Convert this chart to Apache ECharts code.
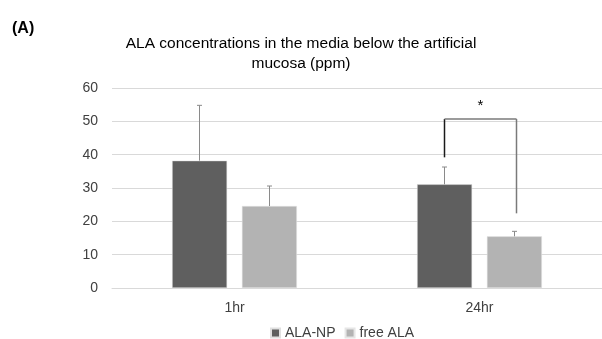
<!DOCTYPE html>
<html><head><meta charset="utf-8">
<script src="https://cdn.jsdelivr.net/npm/echarts@6/dist/echarts.min.js"></script>
<style>html,body{margin:0;padding:0;background:#fff}#c{width:602px;height:339px}</style>
</head><body><div id="c"></div>
<script>
var categories = ['1hr', '24hr'];
var seriesNames = ['ALA-NP', 'free ALA'];
var alaNP = [38.2, 31.1];
var freeALA = [24.6, 15.5];
var alaNPErr = [16.6, 5.2];
var freeALAErr = [6.0, 1.5];
var yTicks = [0, 10, 20, 30, 40, 50, 60];
// significance bracket (24hr): left leg bottom, top, right leg bottom, star
var bracketLeftBottom = 39.2;
var bracketTop = 50.7;
var bracketRightBottom = 22.4;
var starValue = 54.6;
var bracketCategory = 1;

var BAR_W = 55, HALF_OFF = 35;

function errItems(vals, errs) {
  return vals.map(function (v, i) { return [i, v, v + errs[i]]; });
}
function errRender(off, color) {
  return function (params, api) {
    var p0 = api.coord([api.value(0), api.value(1)]);
    var p1 = api.coord([api.value(0), api.value(2)]);
    var x = p0[0] + off;
    return {
      type: 'group',
      children: [
        { type: 'line', shape: { x1: x, y1: p0[1], x2: x, y2: p1[1] }, style: { stroke: color, lineWidth: 1 } },
        { type: 'line', shape: { x1: x - 2.5, y1: p1[1], x2: x + 2.5, y2: p1[1] }, style: { stroke: color, lineWidth: 1 } }
      ]
    };
  };
}

var chart = echarts.init(document.getElementById('c'), null, { renderer: 'canvas' });
chart.setOption({
  animation: false,
  backgroundColor: '#fff',
  title: [
    { text: 'ALA concentrations in the media below the artificial\nmucosa (ppm)', left: 'center', top: 29,
      textStyle: { fontFamily: 'Liberation Sans', fontSize: 15.5, fontWeight: 'normal', color: '#000', lineHeight: 20, align: 'center' } },
    { text: '(A)', left: 7, top: 16, textStyle: { fontFamily: 'Liberation Sans', fontSize: 16, fontWeight: 'bold', color: '#000' } }
  ],
  grid: { left: 112, right: 0, top: 88, bottom: 51, containLabel: false },
  legend: {
    data: seriesNames, bottom: -1, left: 270, itemWidth: 9, itemHeight: 9, itemGap: 9,
    icon: 'rect', textStyle: { fontFamily: 'Liberation Sans', fontSize: 14, color: '#404040' },
    padding: [4, 5, 0, 0]
  },
  xAxis: {
    type: 'category', data: categories,
    axisLine: { lineStyle: { color: '#d9d9d9', width: 1 } },
    axisTick: { show: false },
    axisLabel: { fontFamily: 'Liberation Sans', fontSize: 14, color: '#404040', margin: 13 }
  },
  yAxis: {
    type: 'value', min: 0, max: 60, interval: 10,
    axisLine: { show: false }, axisTick: { show: false },
    splitLine: { lineStyle: { color: '#d9d9d9', width: 1 } },
    axisLabel: { fontFamily: 'Liberation Sans', fontSize: 14, color: '#404040', margin: 14,
      formatter: function (v) { return yTicks.indexOf(v) >= 0 ? String(v) : ''; } }
  },
  series: [
    { name: seriesNames[0], type: 'bar', data: alaNP, barWidth: BAR_W, barGap: '27%',
      itemStyle: { color: '#5f5f5f', borderColor: '#e0e0e0', borderWidth: 0.5 } },
    { name: seriesNames[1], type: 'bar', data: freeALA, barWidth: BAR_W, barGap: '27%',
      itemStyle: { color: '#b3b3b3', borderColor: '#e6e6e6', borderWidth: 0.5 } },
    { type: 'custom', name: 'errNP', data: errItems(alaNP, alaNPErr), renderItem: errRender(-HALF_OFF, '#8a8a8a'), z: 5, silent: true },
    { type: 'custom', name: 'errFree', data: errItems(freeALA, freeALAErr), renderItem: errRender(HALF_OFF, '#8a8a8a'), z: 5, silent: true },
    { type: 'custom', name: 'bracket', data: [[bracketCategory, bracketLeftBottom, bracketTop, bracketRightBottom, starValue]], z: 6, silent: true,
      renderItem: function (params, api) {
        var c = api.value(0);
        var pL = api.coord([c, api.value(1)]);
        var pT = api.coord([c, api.value(2)]);
        var pR = api.coord([c, api.value(3)]);
        var pS = api.coord([c, api.value(4)]);
        var xl = pL[0] - HALF_OFF, xr = pL[0] + HALF_OFF + 2;
        return { type: 'group', children: [
          { type: 'line', shape: { x1: xl, y1: pL[1], x2: xl, y2: pT[1] }, style: { stroke: '#1a1a1a', lineWidth: 1.5 } },
          { type: 'line', shape: { x1: xl, y1: pT[1], x2: xr, y2: pT[1] }, style: { stroke: '#7a7a7a', lineWidth: 1.5 } },
          { type: 'line', shape: { x1: xr, y1: pT[1], x2: xr, y2: pR[1] }, style: { stroke: '#7a7a7a', lineWidth: 1.5 } },
          { type: 'text', style: { x: (xl + xr) / 2, y: pS[1], text: '*', fill: '#000', fontSize: 15, fontFamily: 'Liberation Sans', align: 'center', verticalAlign: 'middle' } }
        ] };
      } }
  ]
});
</script></body></html>
